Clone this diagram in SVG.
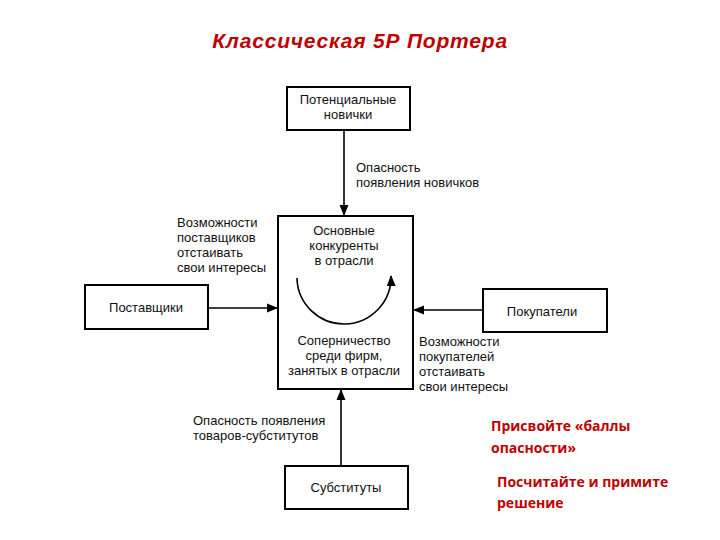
<svg xmlns="http://www.w3.org/2000/svg" width="720" height="540" viewBox="0 0 720 540">
<style>
.b{fill:#fff;stroke:#000;stroke-width:2}
.t{font-family:"Liberation Sans",Arial,sans-serif;font-size:13px;fill:#111}
.c{text-anchor:middle}
.r{font-family:"Open Sans","Liberation Sans",sans-serif;font-size:14px;fill:#c00000;font-weight:bold}
.l{stroke:#000;stroke-width:1.6;fill:none}
</style>
<defs><marker id="a" viewBox="0 0 10 10" refX="9" refY="5" markerWidth="7" markerHeight="7" orient="auto"><path d="M0,1L10,5L0,9z" fill="#000"/></marker></defs>
<rect width="720" height="540" fill="#fff"/>
<text x="360" y="48" text-anchor="middle" font-family="'Liberation Sans',Arial,sans-serif" font-size="21" font-weight="bold" font-style="italic" fill="#c00000" letter-spacing="0.8">Классическая 5Р Портера</text>
<g id="n1"><rect class="b" x="287" y="87" width="123" height="43"/><text class="t c" x="348" y="104">Потенциальные</text><text class="t c" x="348" y="119">новички</text></g>
<g id="n2"><rect class="b" x="278" y="216" width="135" height="173"/>
<text class="t c" x="344" y="235">Основные</text><text class="t c" x="344" y="250">конкуренты</text><text class="t c" x="344" y="265">в отрасли</text>
<text class="t c" x="344" y="345">Соперничество</text><text class="t c" x="344" y="360">среди фирм,</text><text class="t c" x="344" y="375">занятых в отрасли</text></g>
<g id="n3"><rect class="b" x="85" y="285" width="123" height="44"/><text class="t c" x="146" y="312">Поставщики</text></g>
<g id="n4"><rect class="b" x="483" y="289" width="124" height="43"/><text class="t c" x="542" y="316">Покупатели</text></g>
<g id="n5"><rect class="b" x="285" y="466" width="123" height="43"/><text class="t c" x="346" y="492">Субституты</text></g>
<g id="connectors">
<line class="l" x1="344" y1="131" x2="344" y2="215" marker-end="url(#a)"/>
<line class="l" x1="209" y1="308" x2="277" y2="308" marker-end="url(#a)"/>
<line class="l" x1="482" y1="310" x2="414" y2="310" marker-end="url(#a)"/>
<line class="l" x1="341" y1="465" x2="341" y2="390" marker-end="url(#a)"/>
<path class="l" d="M297,278 A47,47 0 0 0 391,276" marker-end="url(#a)"/>
</g>
<g id="labels">
<text class="t" x="356" y="172">Опасность</text><text class="t" x="356" y="187">появления новичков</text>
<text class="t" x="177" y="227">Возможности</text><text class="t" x="177" y="242">поставщиков</text><text class="t" x="177" y="257">отстаивать</text><text class="t" x="177" y="272">свои интересы</text>
<text class="t" x="419" y="346">Возможности</text><text class="t" x="419" y="361">покупателей</text><text class="t" x="419" y="376">отстаивать</text><text class="t" x="419" y="391">свои интересы</text>
<text class="t" x="193" y="425">Опасность появления</text><text class="t" x="193" y="440">товаров-субститутов</text>
<text class="r" x="491" y="431">Присвойте «баллы</text><text class="r" x="491" y="453">опасности»</text>
<text class="r" x="497" y="487">Посчитайте и примите</text><text class="r" x="497" y="508">решение</text>
</g>
</svg>
